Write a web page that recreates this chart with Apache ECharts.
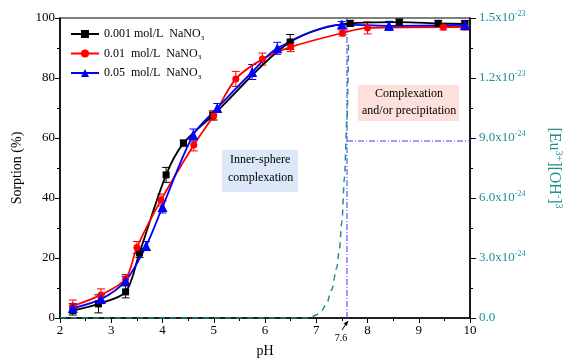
<!DOCTYPE html>
<html><head><meta charset="utf-8">
<script src="https://cdn.jsdelivr.net/npm/echarts@6/dist/echarts.min.js"></script>
<style>html,body{margin:0;padding:0;background:#fff}#c{width:564px;height:363px}</style>
</head><body><div id="c"></div>
<script>
// ---- data ----
var xTicks = [2,3,4,5,6,7,8,9,10];
var seriesNames = ['0.001 mol/L  NaNO', '0.01  mol/L  NaNO', '0.05  mol/L  NaNO'];
var ph001 = [2.25, 2.75, 3.28, 3.55, 4.07, 4.41, 4.98, 6.49, 7.66, 8.62, 9.38, 9.9];
var s001  = [2.5, 4.7, 8.7, 21.7, 47.7, 58.3, 67.5, 92.0, 98.2, 98.6, 98.2, 98.0];
var e001  = [1.5, 3.0, 2.0, 1.5, 2.5, 1.0, 1.5, 2.5, 1.0, 1.0, 1.0, 1.0];
var ph01  = [2.25, 2.8, 3.28, 3.5, 3.97, 4.61, 5.0, 5.43, 5.95, 6.5, 7.51, 8.0, 9.48, 9.9];
var s01   = [4.0, 7.7, 13.0, 23.5, 39.3, 57.7, 67.5, 79.7, 86.3, 90.3, 95.0, 96.7, 97.0, 97.0];
var e01   = [2.0, 2.0, 1.5, 2.0, 2.0, 2.0, 1.5, 2.5, 2.0, 1.5, 1.0, 2.0, 1.0, 1.0];
var ph05  = [2.25, 2.8, 3.28, 3.68, 4.0, 4.6, 5.07, 5.75, 6.24, 7.5, 8.42, 9.9];
var s05   = [3.3, 6.3, 12.4, 24.0, 37.0, 61.0, 70.0, 82.0, 89.9, 97.8, 97.4, 97.7];
var e05   = [1.5, 1.5, 1.5, 1.5, 2.0, 2.0, 1.5, 2.5, 2.0, 1.0, 1.5, 1.5];
// [Eu3+][OH-]^3 in units of 1e-24
var phEu  = [2, 3, 4, 5, 6, 6.6, 6.8, 6.9, 7.0, 7.1, 7.2, 7.3, 7.4, 7.45, 7.5, 7.55, 7.6, 7.63];
var eu    = [0, 0, 0, 0, 0, 0, 0, 0.05, 0.15, 0.35, 0.7, 1.4, 2.5, 3.4, 4.8, 7.0, 10.0, 13.8];
var refPH = 7.6;
var refEu = 8.85;
var leftTicks = [0,20,40,60,80,100];
var rightTicks = [0,3,6,9,12,15];

function zip(a,b){return a.map(function(v,i){return [v,b[i]];});}
function zip3(a,b,c){return a.map(function(v,i){return [v,b[i],c[i]];});}

var serif = 'Liberation Serif';
var teal = '#1f8f8f';
var colors = ['#000000','#ff0000','#0000ff'];
var symbols = ['rect','circle','triangle'];
var sizes = [7,7,10];

function errRender(color){
  return function(params, api){
    var x = api.value(0), y = api.value(1), e = api.value(2);
    var hi = api.coord([x, y+e]), lo = api.coord([x, y-e]);
    var w = 4;
    var st = {stroke: color, lineWidth: 1};
    return {type:'group', children:[
      {type:'line', shape:{x1:hi[0],y1:hi[1],x2:lo[0],y2:lo[1]}, style:st},
      {type:'line', shape:{x1:hi[0]-w,y1:hi[1],x2:hi[0]+w,y2:hi[1]}, style:st},
      {type:'line', shape:{x1:lo[0]-w,y1:lo[1],x2:lo[0]+w,y2:lo[1]}, style:st}
    ]};
  };
}

var dataSets = [[ph001,s001,e001],[ph01,s01,e01],[ph05,s05,e05]];
var series = [];
dataSets.forEach(function(d,i){
  series.push({
    name: seriesNames[i], type:'line', smooth:0.3, data: zip(d[0],d[1]),
    symbol: symbols[i], symbolSize: sizes[i], showAllSymbol:true,
    itemStyle:{color:colors[i]}, lineStyle:{color:colors[i], width:1.8}, z:5
  });
  series.push({
    type:'custom', renderItem: errRender(colors[i]), data: zip3(d[0],d[1],d[2]),
    z:4, silent:true
  });
});
series.push({
  type:'line', yAxisIndex:1, data: zip(phEu, eu), smooth:0.3, smoothMonotone:'x', symbol:'none',
  lineStyle:{color:teal, width:1.5, type:[6,5]}, z:3, silent:true
});
// reference dash-dot lines
series.push({
  type:'line', yAxisIndex:1, data:[[refPH,0],[refPH,15]], symbol:'none',
  lineStyle:{color:'#3a3aff', width:1, type:[6,2,1,2]}, z:2, silent:true
});
series.push({
  type:'line', yAxisIndex:1, data:[[refPH,refEu],[10,refEu]], symbol:'none',
  lineStyle:{color:'#3a3aff', width:1, type:[6,2,1,2]}, z:2, silent:true
});
// 7.6 arrow annotation
series.push({
  type:'custom', data:[[refPH,0]], clip:false, silent:true, z:10,
  renderItem:function(params, api){
    var p = api.coord([api.value(0), 0]);
    var x0 = p[0]-5, y0 = p[1]+12, x1 = p[0]+1, y1 = p[1]+3;
    return {type:'group', children:[
      {type:'line', shape:{x1:x0,y1:y0,x2:x1,y2:y1}, style:{stroke:'#000', lineWidth:1}},
      {type:'polygon', shape:{points:[[x1,y1],[x1-1,y1+5],[x1-4.5,y1+2.5]]}, style:{fill:'#000'}},
      {type:'text', style:{text:'7.6', x:p[0]-6, y:p[1]+20, textAlign:'center', textVerticalAlign:'middle', font:'10px "Liberation Serif"', fill:'#000'}}
    ]};
  }
});

var legendRich = {
  a:{fontFamily:serif, fontSize:12, color:'#000'},
  s:{fontFamily:serif, fontSize:7, color:'#000', verticalAlign:'bottom', padding:[8,0,0,0]}
};
function rightFmt(v){
  if (v === 0) return '0.0';
  if (v >= 10) return (v/10).toFixed(1)+'x10{s|-23}';
  return v.toFixed(1)+'x10{s|-24}';
}

var chart = echarts.init(document.getElementById('c'), null, {renderer:'canvas'});
chart.setOption({
  animation:false,
  backgroundColor:'#fff',
  grid:{left:60, right:94, top:18, bottom:45, containLabel:false, outerBoundsMode:'none',
        show:true, borderColor:'#000', borderWidth:1.2},
  legend:{
    orient:'vertical', left:65, top:23, itemGap:6, itemWidth:28, itemHeight:10,
    data: seriesNames,
    formatter:function(n){return '{a|'+n+'}{s|3}';},
    textStyle:{rich:legendRich}
  },
  xAxis:{
    type:'value', min:2, max:10, interval:1,
    name:'pH', nameLocation:'middle', nameGap:26,
    nameTextStyle:{fontFamily:serif, fontSize:14, color:'#000'},
    axisLine:{lineStyle:{color:'#000', width:1.5}},
    axisTick:{inside:false, length:5, lineStyle:{color:'#000'}},
    minorTick:{show:true, splitNumber:2, length:3, lineStyle:{color:'#000'}},
    axisLabel:{fontFamily:serif, fontSize:13, color:'#000', margin:6},
    splitLine:{show:false}
  },
  yAxis:[{
    type:'value', min:0, max:100, interval:20,
    name:'Sorption (%)', nameLocation:'middle', nameGap:34,
    nameTextStyle:{fontFamily:serif, fontSize:14, color:'#000'},
    axisLine:{show:true, lineStyle:{color:'#000', width:1.5}},
    axisTick:{show:true, length:5, lineStyle:{color:'#000'}},
    minorTick:{show:true, splitNumber:2, length:3, lineStyle:{color:'#000'}},
    axisLabel:{fontFamily:serif, fontSize:13, color:'#000', margin:5},
    splitLine:{show:false}
  },{
    type:'value', min:0, max:15, interval:3, position:'right',
    name:'[Eu{s|3+}][OH{s|-}]{s|3}', nameLocation:'middle', nameGap:75, nameRotate:-90,
    nameTextStyle:{fontFamily:serif, fontSize:16, color:teal,
      rich:{s:{fontFamily:serif, fontSize:10, color:teal, verticalAlign:'top', padding:[0,0,9,0]}}},
    axisLine:{show:true, lineStyle:{color:'#000', width:1.5}},
    axisTick:{show:true, length:6, lineStyle:{color:'#000'}},
    minorTick:{show:true, splitNumber:2, length:3, lineStyle:{color:'#000'}},
    axisLabel:{fontFamily:serif, fontSize:13, color:teal, margin:9, formatter:rightFmt,
      rich:{s:{fontFamily:serif, fontSize:8, color:teal, verticalAlign:'top', padding:[0,0,8,0]}}},
    splitLine:{show:false}
  }],
  graphic:[
    {type:'rect', left:222, top:150, shape:{width:76, height:42}, style:{fill:'#dce7f7'}, z:1},
    {type:'text', left:230, top:154, style:{text:'Inner-sphere', font:'12px "Liberation Serif"', fill:'#000'}, z:2},
    {type:'text', left:228, top:172, style:{text:'complexation', font:'12px "Liberation Serif"', fill:'#000'}, z:2},
    {type:'rect', left:358, top:85, shape:{width:101, height:36}, style:{fill:'#fde0dc'}, z:1},
    {type:'text', left:375, top:88, style:{text:'Complexation', font:'12px "Liberation Serif"', fill:'#000'}, z:2},
    {type:'text', left:362, top:105, style:{text:'and/or precipitation', font:'12px "Liberation Serif"', fill:'#000'}, z:2}
  ],
  series: series
});
</script></body></html>
